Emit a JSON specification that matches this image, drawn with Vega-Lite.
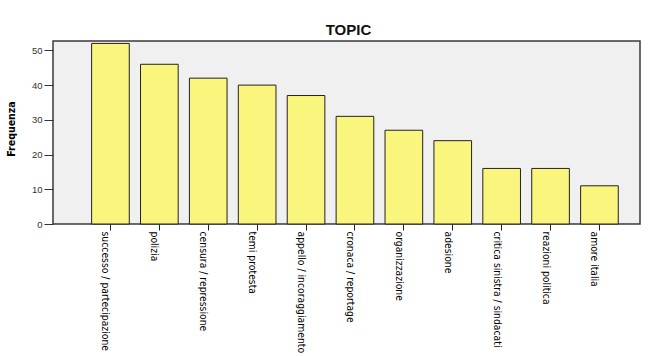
{
  "$schema": "https://vega.github.io/schema/vega-lite/v6.json",
  "width": 587,
  "height": 183,
  "autosize": {"type": "none"},
  "padding": {"left": 53, "top": 41, "right": 9, "bottom": 132},
  "background": "white",
  "title": {
    "text": "TOPIC",
    "font": "Liberation Sans",
    "fontSize": 15,
    "fontWeight": "bold",
    "color": "#111111",
    "anchor": "middle",
    "frame": "group",
    "baseline": "top",
    "offset": 3,
    "dx": 2
  },
  "config": {
    "view": {"fill": "#f0f0f0", "stroke": "#3a3a3a", "strokeWidth": 1.5}
  },
  "data": {
    "values": [
      {"topic": "successo / partecipazione", "freq": 52},
      {"topic": "polizia", "freq": 46},
      {"topic": "censura / repressione", "freq": 42},
      {"topic": "temi protesta", "freq": 40},
      {"topic": "appello / incoraggiamento", "freq": 37},
      {"topic": "cronaca / reportage", "freq": 31},
      {"topic": "organizzazione", "freq": 27},
      {"topic": "adesione", "freq": 24},
      {"topic": "critica sinistra / sindacati", "freq": 16},
      {"topic": "reazioni politica", "freq": 16},
      {"topic": "amore italia", "freq": 11}
    ]
  },
  "mark": {"type": "bar", "fill": "#faf57c", "stroke": "#222222", "strokeWidth": 1},
  "encoding": {
    "x": {
      "field": "topic",
      "type": "nominal",
      "sort": null,
      "scale": {"paddingInner": 0.23, "paddingOuter": 0.617, "align": 0.64},
      "axis": {
        "title": null,
        "domain": false,
        "labelAngle": 90,
        "labelAlign": "left",
        "labelBaseline": "top",
        "labelFont": "DejaVu Sans Condensed, sans-serif",
        "labelFontSize": 10.3,
        "labelColor": "#000000",
        "labelPadding": 1,
        "labelLimit": 200,
        "ticks": true,
        "tickSize": 6,
        "tickColor": "#222222",
        "tickWidth": 1
      }
    },
    "y": {
      "field": "freq",
      "type": "quantitative",
      "scale": {"domain": [0, 52.7], "nice": false},
      "axis": {
        "title": "Frequenza",
        "values": [0, 10, 20, 30, 40, 50],
        "grid": false,
        "domain": false,
        "tickSize": 9,
        "tickColor": "#333333",
        "labelFont": "Liberation Sans",
        "labelFontSize": 9.5,
        "labelColor": "#333333",
        "labelPadding": 2,
        "titleFont": "DejaVu Sans Condensed, sans-serif",
        "titleFontSize": 10.5,
        "titleFontWeight": "bold",
        "titleColor": "#000000",
        "titleX": -42,
        "titleY": 87.5,
        "titleAngle": 270,
        "titleAlign": "center",
        "titleBaseline": "middle"
      }
    }
  }
}
